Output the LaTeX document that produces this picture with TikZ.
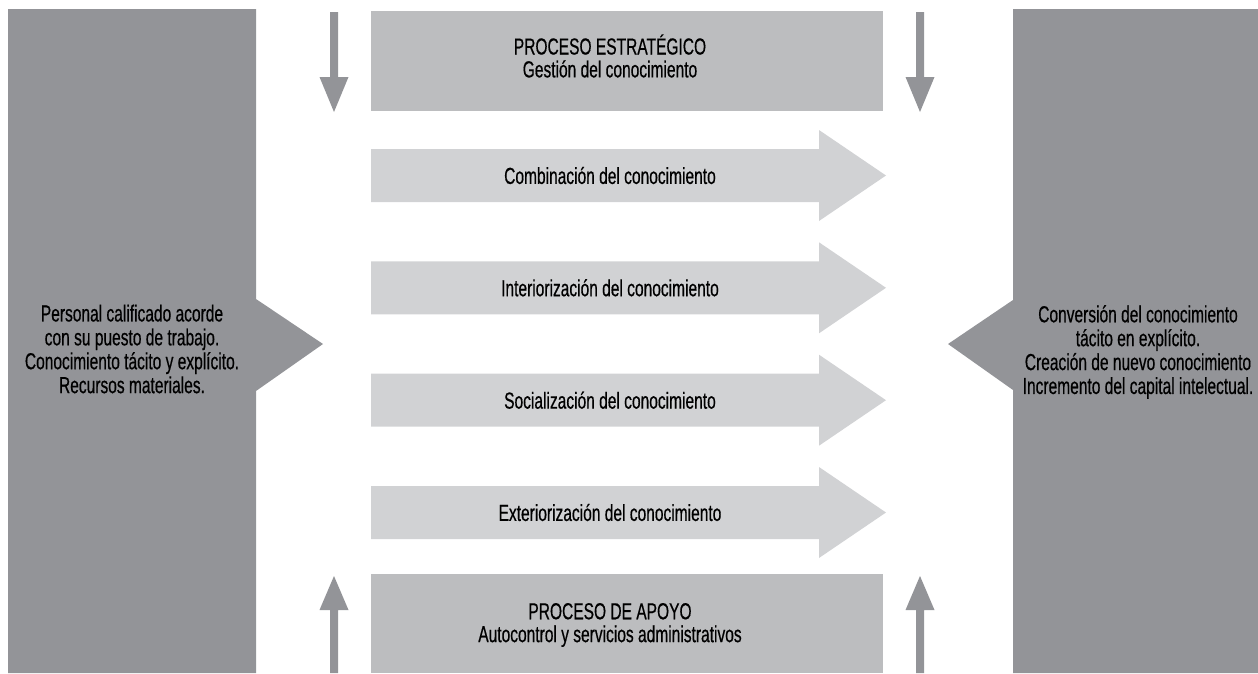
\documentclass[tikz,border=0pt]{standalone}
\usepackage{fontspec}
\setmainfont[FakeStretch=0.67,FakeBold=0.5]{Liberation Sans}
\definecolor{panelgray}{RGB}{147,148,152}
\definecolor{boxgray}{RGB}{188,189,191}
\definecolor{arrowgray}{RGB}{209,210,212}
\begin{document}
\begin{tikzpicture}[x=0.02cm,y=-0.02cm,
  sidetext/.style={align=center,inner sep=0pt,font=\fontsize{13.2}{13.6}\selectfont},
  boxtext/.style={align=center,inner sep=0pt,font=\fontsize{13.2}{13}\selectfont}]
\useasboundingbox (0,0) rectangle (1258,673);
% side panels
\fill[panelgray] (8,9) -- (256,9) -- (256,299) -- (323,344) -- (256,391) -- (256,673) -- (8,673) -- cycle;
\fill[panelgray] (1258,9) -- (1013,9) -- (1013,300) -- (948,344) -- (1013,390) -- (1013,673) -- (1258,673) -- cycle;
\node[sidetext] (entradas) at (132,349) {Personal calificado acorde\\con su puesto de trabajo.\\Conocimiento tácito y explícito.\\Recursos materiales.};
\node[sidetext] (salidas) at (1138,352) {Conversión del conocimiento\\tácito en explícito.\\Creación de nuevo conocimiento\\Incremento del capital intelectual.};
% process boxes
\fill[boxgray] (371,11) rectangle (883,111);
\fill[boxgray] (371,574) rectangle (883,673);
\node[boxtext] (estrategico) at (610,56) {PROCESO ESTRATÉGICO\\Gestión del conocimiento};
\node[boxtext] (apoyo) at (610,625) {PROCESO DE APOYO\\Autocontrol y servicios administrativos};
% small arrows
\foreach \x in {334,920} {
  \fill[panelgray] ({\x-4},12) -- ({\x+4},12) -- ({\x+4},77) -- ({\x+14.5},77) -- (\x,112) -- ({\x-14.5},77) -- ({\x-4},77) -- cycle;
  \fill[panelgray] ({\x-4},673) -- ({\x+4},673) -- ({\x+4},610) -- ({\x+14.5},610) -- (\x,576) -- ({\x-14.5},610) -- ({\x-4},610) -- cycle;
}
% knowledge arrows
\foreach \y/\nm/\txt in {175.5/comb/Combinación, 287.8/inte/Interiorización, 400.2/soci/Socialización, 512.5/exte/Exteriorización} {
  \fill[arrowgray] (371,{\y-26.5}) -- (819,{\y-26.5}) -- (819,{\y-45.5}) -- (886,\y) -- (819,{\y+45.5}) -- (819,{\y+26.5}) -- (371,{\y+26.5}) -- cycle;
  \node[boxtext] (\nm) at (610,\y) {\txt\ del conocimiento};
}
\end{tikzpicture}
\end{document}
